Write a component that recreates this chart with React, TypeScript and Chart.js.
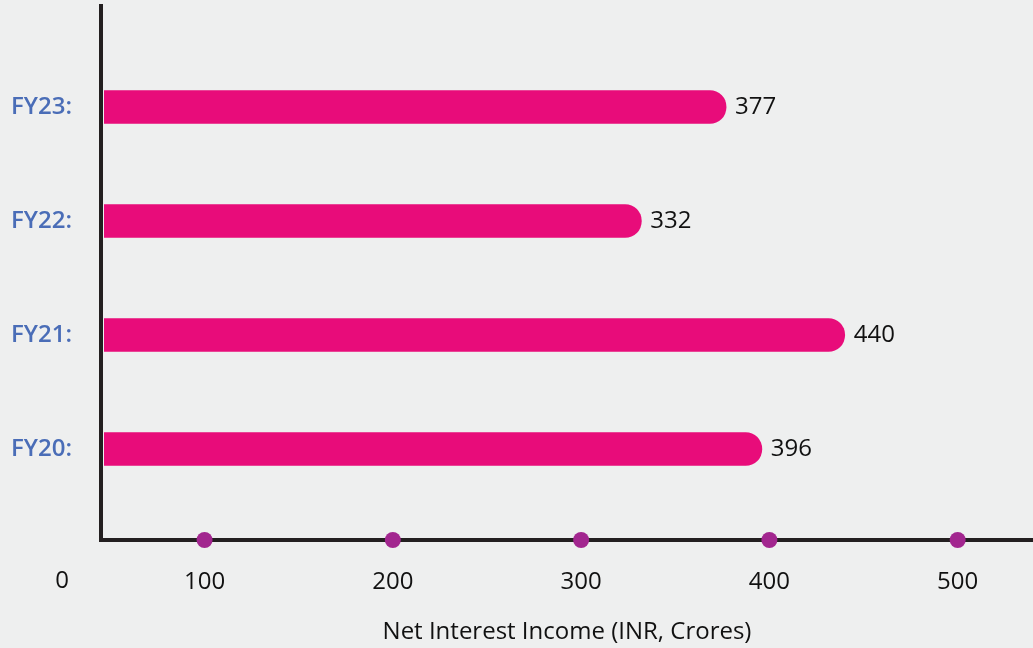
import React, { useEffect, useRef } from "react";
import { Chart, registerables } from "chart.js";

Chart.register(...registerables);

const categories = ["FY23", "FY22", "FY21", "FY20"];
const values = [377, 332, 440, 396];
const xTickValues = [0, 100, 200, 300, 400, 500];
const xTitle = "Net Interest Income (INR, Crores)";

const FONT = "'Open Sans', sans-serif";
const BAR = "#E80C7A";
const DOT = "#A2268F";
const AXIS = "#231F20";
const LABEL_BLUE = "#4A6DB7";
const TEXT = "#111111";
const FS = 24;

export default function App() {
  const ref = useRef<HTMLCanvasElement | null>(null);

  useEffect(() => {
    document.body.style.margin = "0";
    document.body.style.background = "#EEEFEF";
    const canvas = ref.current;
    if (!canvas) return;

    const n = categories.length;
    const data = categories.map((c, i) => ({ x: values[i], y: n - 1 - i }));

    const extras = {
      id: "extras",
      afterDatasetsDraw(chart: any) {
        const ctx = chart.ctx;
        const meta = chart.getDatasetMeta(0);
        ctx.save();
        ctx.font = `${FS}px ${FONT}`;
        ctx.fillStyle = TEXT;
        ctx.textAlign = "left";
        ctx.textBaseline = "middle";
        meta.data.forEach((el: any, i: number) => {
          ctx.fillText(String(values[i]), el.x + 9, el.y);
        });
        ctx.restore();
      },
      afterDraw(chart: any) {
        const ctx = chart.ctx;
        const xs = chart.scales.x;
        const area = chart.chartArea;
        ctx.save();
        ctx.fillStyle = DOT;
        xTickValues.forEach((v) => {
          if (v < xs.min || v > xs.max) return;
          ctx.beginPath();
          ctx.arc(xs.getPixelForValue(v), area.bottom, 8, 0, Math.PI * 2);
          ctx.fill();
        });
        // origin label
        ctx.font = `${FS}px ${FONT}`;
        ctx.fillStyle = TEXT;
        ctx.textAlign = "center";
        ctx.textBaseline = "middle";
        ctx.fillText(String(xTickValues[0]), area.left - 39, area.bottom + 41);
        ctx.restore();
      },
    };

    const chart = new Chart(canvas, {
      type: "bar",
      data: {
        datasets: [
          {
            data,
            backgroundColor: BAR,
            borderRadius: 20,
            borderSkipped: "start",
            barThickness: 33,
            clip: { left: -3, right: 0, top: 0, bottom: 0 },
          },
        ],
      },
      options: {
        indexAxis: "y",
        responsive: false,
        animation: false,
        layout: { padding: { top: 6, right: 0, left: 0, bottom: 0 } },
        plugins: { legend: { display: false }, tooltip: { enabled: false } },
        scales: {
          x: {
            type: "linear",
            min: 45,
            max: 540,
            offset: false,
            grid: { display: false, drawTicks: false },
            border: { display: true, width: 4, color: AXIS },
            afterBuildTicks: (s: any) => {
              s.ticks = xTickValues.filter((v) => v >= s.min && v <= s.max).map((v) => ({ value: v }));
            },
            afterFit: (s: any) => {
              s.height = 108;
              s.paddingLeft = 0;
              s.paddingRight = 0;
            },
            ticks: {
              color: TEXT,
              font: { family: FONT, size: FS },
              padding: 28,
              maxRotation: 0,
              autoSkip: false,
            },
            title: {
              display: true,
              text: xTitle,
              color: TEXT,
              font: { family: FONT, size: FS },
              padding: { top: 0, bottom: 1 },
            },
          },
          y: {
            type: "linear",
            min: -0.798,
            max: 3.886,
            offset: false,
            grid: { display: false, drawTicks: false },
            border: { display: true, width: 4, color: AXIS },
            afterBuildTicks: (s: any) => {
              s.ticks = categories.map((c, i) => ({ value: n - 1 - i }));
            },
            afterFit: (s: any) => {
              s.width = 101;
              s.paddingTop = 0;
              s.paddingBottom = 0;
            },
            ticks: {
              color: LABEL_BLUE,
              font: { family: FONT, size: FS, weight: "600" },
              padding: 29,
              callback: (v: any) => {
                const idx = n - 1 - Math.round(Number(v));
                return categories[idx] ? categories[idx] + ":" : "";
              },
            },
          },
        },
      },
      plugins: [extras],
    } as any);

    return () => chart.destroy();
  }, []);

  return (
    <div style={{ width: 1033, height: 648, background: "#EEEFEF" }}>
      <canvas ref={ref} width={1033} height={648} />
    </div>
  );
}
